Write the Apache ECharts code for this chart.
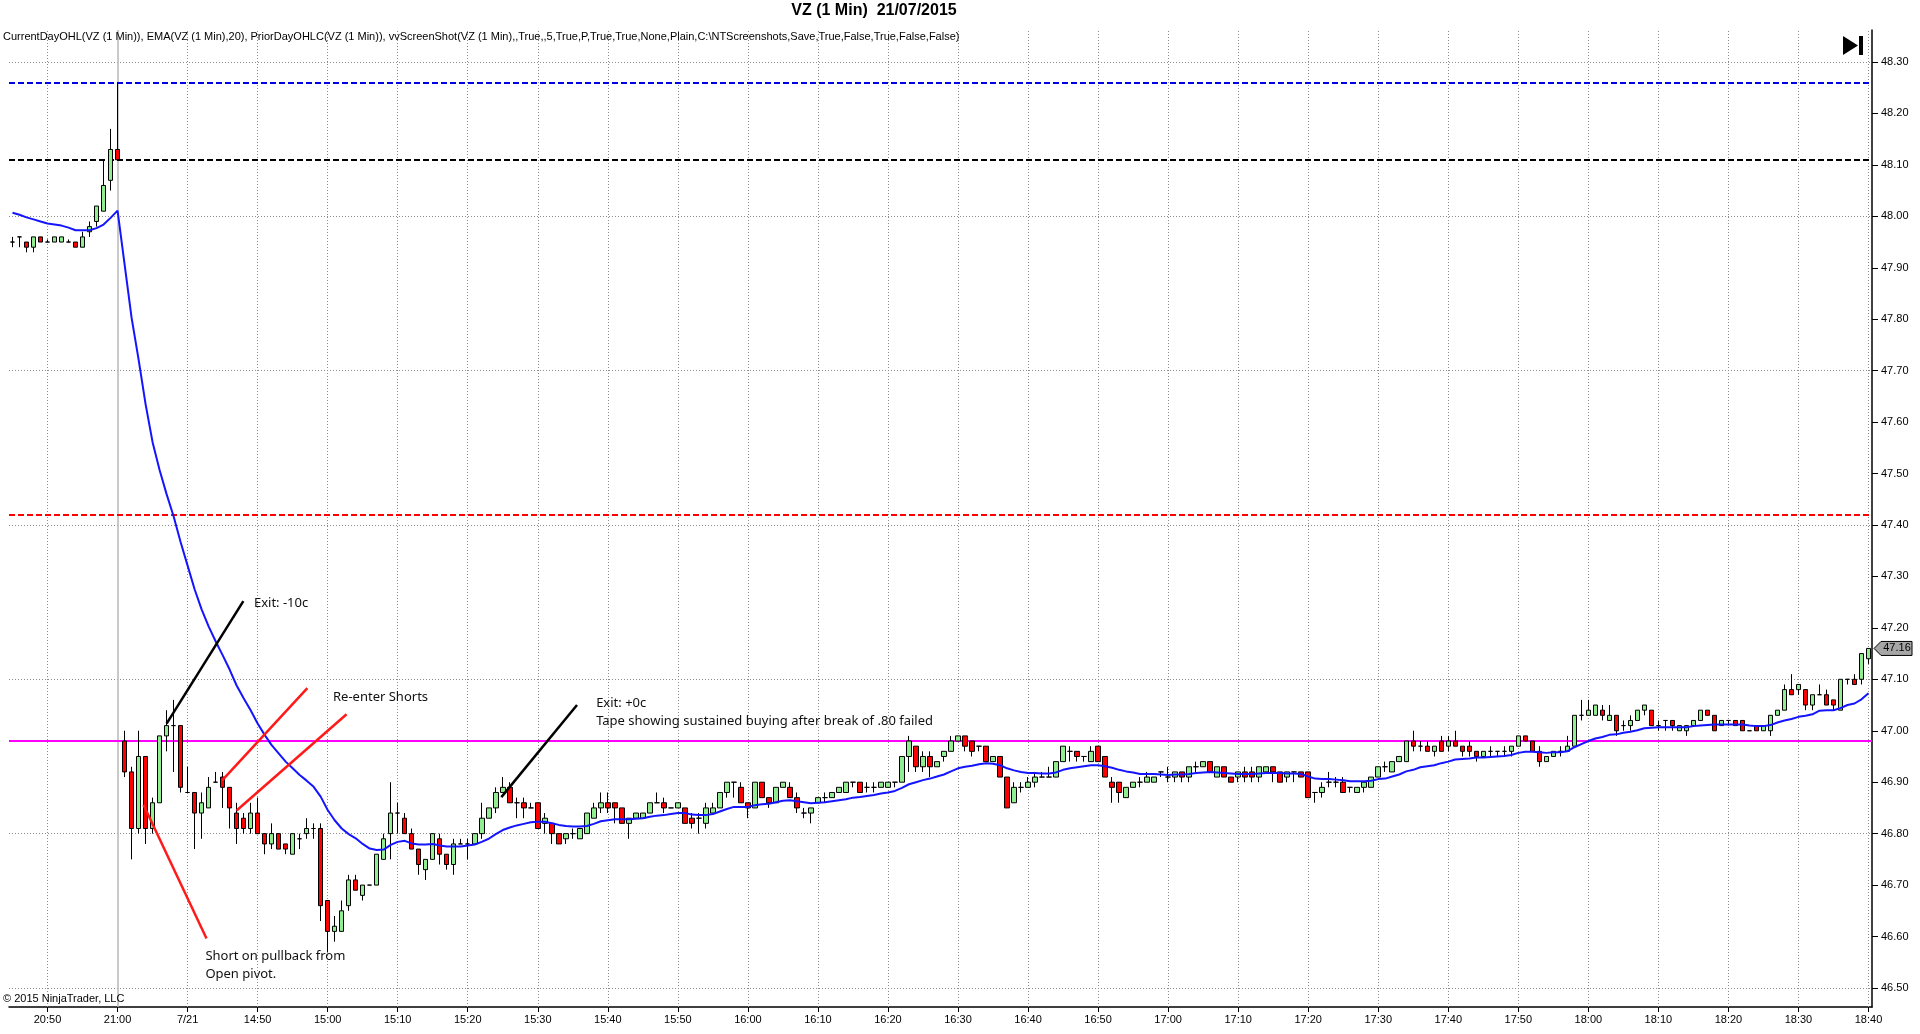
<!DOCTYPE html>
<html>
<head>
<meta charset="utf-8">
<title>VZ (1 Min) 21/07/2015</title>
<script src="https://cdn.jsdelivr.net/npm/echarts@6/dist/echarts.min.js"></script>
<style>
html,body{margin:0;padding:0;background:#fff;}
#main{width:1920px;height:1034px;}
</style>
</head>
<body>
<div id="main"></div>
<script>
// ---------- DATA ----------
// Prior session bars 20:45 - 21:00, then 21/07 session bars 14:31 - 18:40 (1 minute)
const priorStart = [20, 45], priorEnd = [21, 0];
const dayStart = [14, 31], dayEnd = [18, 40];

const xTickLabels = ['20:50','21:00','7/21','14:50','15:00','15:10','15:20','15:30','15:40','15:50',
  '16:00','16:10','16:20','16:30','16:40','16:50','17:00','17:10','17:20','17:30','17:40','17:50',
  '18:00','18:10','18:20','18:30','18:40'];
const yTickValues = [46.5,46.6,46.7,46.8,46.9,47.0,47.1,47.2,47.3,47.4,47.5,47.6,47.7,47.8,47.9,48.0,48.1,48.2,48.3];
const yGridValues = [46.5,46.8,47.1,47.4,47.7,48.0,48.3];

const opens = [
47.95,47.96,47.95,47.94,47.96,47.95,47.95,47.95,47.95,47.95,47.94,47.97,47.99,48.01,48.07,48.13,
46.98,46.92,46.81,46.95,46.81,46.86,46.99,47.01,47.01,46.88,
46.88,46.84,46.85,46.90,46.91,46.89,46.84,46.83,46.81,46.84,
46.80,46.78,46.80,46.78,46.76,46.79,46.80,46.81,46.81,46.67,
46.61,46.61,46.66,46.71,46.68,46.70,46.70,46.75,46.80,46.84,
46.83,46.80,46.77,46.73,46.75,46.79,46.76,46.74,46.78,46.78,
46.78,46.80,46.83,46.85,46.88,46.89,46.86,46.86,46.85,46.86,
46.82,46.82,46.80,46.79,46.80,46.79,46.80,46.83,46.85,46.86,
46.86,46.85,46.82,46.83,46.83,46.84,46.86,46.86,46.85,46.85,
46.85,46.83,46.83,46.82,46.84,46.85,46.88,46.90,46.89,46.86,
46.85,46.90,46.87,46.86,46.89,46.89,46.87,46.84,46.84,46.86,
46.87,46.87,46.88,46.88,46.90,46.90,46.89,46.89,46.89,46.89,
46.90,46.90,46.95,46.97,46.93,46.95,46.93,46.95,46.96,46.98,
46.99,46.98,46.97,46.97,46.94,46.95,46.91,46.86,46.89,46.89,
46.90,46.91,46.91,46.91,46.94,46.96,46.96,46.95,46.94,46.97,
46.95,46.90,46.90,46.87,46.89,46.90,46.90,46.90,46.92,46.91,
46.91,46.92,46.91,46.93,46.93,46.94,46.91,46.93,46.91,46.91,
46.92,46.92,46.91,46.92,46.93,46.92,46.91,46.92,46.92,46.92,
46.88,46.88,46.90,46.90,46.90,46.89,46.88,46.89,46.89,46.91,
46.93,46.92,46.94,46.94,46.98,46.97,46.97,46.96,46.98,46.97,
46.98,46.97,46.97,46.96,46.95,46.96,46.96,46.96,46.96,46.97,
46.99,46.98,46.96,46.94,46.95,46.96,46.96,46.97,47.03,47.03,
47.03,47.04,47.02,47.03,47.01,47.01,47.02,47.04,47.04,47.01,
47.02,47.02,47.00,47.00,47.01,47.02,47.04,47.03,47.01,47.02,
47.02,47.02,47.00,47.01,47.00,47.00,47.03,47.04,47.08,47.08,
47.08,47.05,47.07,47.07,47.06,47.04,47.10,47.10,47.10,47.14
];
const highs = [
47.96,47.96,47.95,47.96,47.96,47.955,47.96,47.96,47.955,47.95,47.97,47.99,48.02,48.11,48.17,48.26,
47.00,46.93,47.00,46.95,46.87,46.99,47.04,47.06,47.01,46.93,
46.88,46.88,46.91,46.92,46.92,46.89,46.86,46.84,46.86,46.87,
46.80,46.82,46.80,46.78,46.80,46.80,46.83,46.82,46.82,46.67,
46.64,46.67,46.72,46.72,46.70,46.70,46.76,46.80,46.90,46.86,
46.84,46.81,46.77,46.75,46.80,46.80,46.76,46.79,46.79,46.79,
46.80,46.86,46.85,46.89,46.91,46.90,46.87,46.87,46.86,46.86,
46.84,46.82,46.80,46.80,46.81,46.81,46.84,46.86,46.88,46.88,
46.86,46.85,46.83,46.84,46.84,46.86,46.88,46.87,46.85,46.86,
46.85,46.84,46.84,46.86,46.86,46.88,46.90,46.90,46.90,46.86,
46.90,46.90,46.87,46.89,46.90,46.90,46.88,46.85,46.85,46.87,
46.88,46.88,46.89,46.90,46.90,46.90,46.90,46.90,46.90,46.90,
46.90,46.95,46.99,46.97,46.96,46.96,46.94,46.96,46.99,46.99,
46.99,46.98,46.97,46.97,46.95,46.95,46.91,46.90,46.90,46.91,
46.92,46.92,46.93,46.94,46.97,46.97,46.96,46.95,46.97,46.97,
46.95,46.91,46.90,46.89,46.90,46.91,46.92,46.91,46.92,46.93,
46.92,46.92,46.93,46.94,46.94,46.94,46.93,46.93,46.91,46.92,
46.93,46.93,46.93,46.93,46.93,46.92,46.92,46.92,46.92,46.92,
46.88,46.90,46.92,46.91,46.91,46.89,46.89,46.90,46.91,46.93,
46.94,46.94,46.95,46.98,47.00,46.98,46.98,46.97,46.99,46.99,
47.00,46.97,46.98,46.96,46.96,46.97,46.96,46.97,46.97,46.99,
46.99,46.98,46.97,46.95,46.96,46.97,46.99,47.03,47.06,47.06,
47.05,47.05,47.05,47.03,47.02,47.03,47.04,47.05,47.04,47.02,
47.02,47.02,47.01,47.01,47.02,47.04,47.04,47.03,47.02,47.02,
47.02,47.02,47.00,47.01,47.01,47.03,47.04,47.09,47.11,47.09,
47.08,47.07,47.09,47.08,47.06,47.10,47.10,47.11,47.15,47.16
];
const lows = [
47.94,47.94,47.93,47.93,47.95,47.95,47.95,47.95,47.95,47.94,47.94,47.96,47.98,48.01,48.05,48.11,
46.91,46.75,46.80,46.78,46.80,46.86,46.96,46.92,46.88,46.88,
46.77,46.79,46.85,46.90,46.85,46.81,46.78,46.80,46.80,46.80,
46.76,46.77,46.77,46.76,46.76,46.77,46.79,46.79,46.63,46.57,
46.59,46.61,46.65,46.69,46.67,46.70,46.70,46.75,46.75,46.80,
46.80,46.77,46.72,46.71,46.75,46.74,46.73,46.72,46.78,46.75,
46.78,46.79,46.83,46.84,46.88,46.86,46.83,46.83,46.85,46.81,
46.80,46.78,46.78,46.78,46.79,46.79,46.80,46.83,46.84,46.84,
46.82,46.82,46.79,46.83,46.83,46.84,46.86,46.84,46.85,46.85,
46.82,46.81,46.80,46.81,46.84,46.85,46.87,46.87,46.86,46.83,
46.85,46.87,46.85,46.86,46.89,46.87,46.84,46.83,46.82,46.86,
46.86,46.87,46.88,46.88,46.89,46.88,46.88,46.88,46.89,46.89,
46.89,46.90,46.92,46.92,46.92,46.91,46.93,46.94,46.96,46.98,
46.96,46.95,46.96,46.94,46.94,46.91,46.85,46.86,46.88,46.89,
46.89,46.91,46.91,46.91,46.94,46.94,46.94,46.94,46.94,46.94,
46.91,46.86,46.86,46.87,46.89,46.89,46.90,46.90,46.91,46.90,
46.90,46.90,46.90,46.92,46.93,46.92,46.91,46.91,46.90,46.90,
46.90,46.90,46.90,46.92,46.90,46.90,46.90,46.90,46.91,46.87,
46.86,46.87,46.89,46.89,46.88,46.88,46.88,46.88,46.89,46.91,
46.92,46.92,46.94,46.94,46.96,46.96,46.96,46.95,46.96,46.96,
46.97,46.95,46.95,46.94,46.95,46.95,46.95,46.95,46.95,46.97,
46.98,46.96,46.93,46.94,46.95,46.95,46.96,46.97,47.02,47.03,
47.03,47.02,47.02,46.99,47.00,47.00,47.02,47.03,47.01,47.00,
47.00,47.00,47.00,46.99,47.01,47.02,47.03,47.00,47.01,47.01,
47.01,47.00,47.00,47.00,47.00,46.99,47.03,47.04,47.07,47.07,
47.04,47.04,47.07,47.05,47.04,47.04,47.09,47.09,47.09,47.13
];
const closes = [
47.95,47.96,47.94,47.96,47.95,47.95,47.96,47.96,47.95,47.94,47.96,47.98,48.02,48.06,48.13,48.11,
46.92,46.81,46.95,46.81,46.86,46.99,47.01,47.01,46.89,46.88,
46.84,46.86,46.89,46.90,46.89,46.85,46.81,46.81,46.84,46.80,
46.78,46.80,46.77,46.77,46.80,46.79,46.81,46.81,46.66,46.61,
46.62,46.65,46.71,46.69,46.70,46.70,46.76,46.79,46.84,46.84,
46.80,46.77,46.74,46.75,46.80,46.76,46.74,46.78,46.78,46.78,
46.80,46.83,46.85,46.88,46.89,46.86,46.86,46.85,46.85,46.81,
46.83,46.80,46.78,46.80,46.80,46.81,46.84,46.85,46.86,46.85,
46.85,46.82,46.83,46.84,46.84,46.86,46.86,46.85,46.85,46.86,
46.82,46.82,46.83,46.85,46.85,46.88,46.90,46.90,46.86,46.85,
46.90,46.87,46.86,46.89,46.90,46.87,46.85,46.84,46.85,46.87,
46.87,46.88,46.89,46.90,46.90,46.88,46.89,46.89,46.90,46.90,
46.90,46.95,46.98,46.93,46.95,46.93,46.94,46.96,46.98,46.99,
46.97,46.96,46.97,46.94,46.95,46.91,46.85,46.89,46.89,46.90,
46.91,46.91,46.91,46.94,46.97,46.96,46.95,46.95,46.96,46.94,
46.91,46.89,46.88,46.89,46.90,46.90,46.91,46.91,46.92,46.91,
46.92,46.91,46.93,46.93,46.94,46.92,46.93,46.91,46.90,46.92,
46.91,46.91,46.93,46.93,46.92,46.90,46.92,46.92,46.91,46.87,
46.88,46.89,46.90,46.90,46.88,46.89,46.89,46.90,46.91,46.93,
46.93,46.94,46.95,46.98,46.97,46.97,46.96,46.97,46.96,46.98,
46.97,46.96,46.96,46.95,46.96,46.96,46.96,46.96,46.97,46.99,
46.98,46.96,46.94,46.95,46.96,46.96,46.97,47.03,47.03,47.04,
47.05,47.03,47.03,47.00,47.01,47.02,47.04,47.05,47.01,47.01,
47.02,47.01,47.01,47.01,47.02,47.04,47.03,47.00,47.02,47.02,
47.01,47.00,47.00,47.00,47.01,47.03,47.04,47.08,47.07,47.09,
47.05,47.07,47.07,47.05,47.05,47.10,47.10,47.09,47.15,47.16
];
// EMA(20)
const ema = [
48.007,48.003,47.998,47.994,47.990,47.986,47.984,47.982,47.978,47.973,47.973,47.973,47.977,47.984,47.997,48.011,
47.907,47.803,47.722,47.635,47.561,47.507,47.460,47.417,47.367,47.321,
47.275,47.236,47.203,47.174,47.147,47.119,
47.088,47.063,47.040,47.014,46.992,46.972,46.956,46.940,46.927,46.914,
46.903,46.891,46.872,46.846,46.826,46.810,46.799,46.791,46.780,46.771,
46.768,46.769,46.778,46.784,46.786,
46.781,46.779,46.779,46.780,46.777,46.775,46.775,46.775,46.777,46.779,
46.784,46.790,46.799,46.807,46.812,46.816,46.819,46.822,46.823,46.823,
46.820,46.817,46.815,46.814,46.814,46.815,46.819,46.824,46.826,46.828,
46.828,46.828,46.829,46.830,46.833,46.835,46.836,46.838,46.840,46.840,46.837,46.836,
46.836,46.838,46.843,46.848,46.852,46.852,46.852,46.855,46.857,46.858,
46.861,46.864,46.865,46.863,46.861,46.859,46.860,46.861,46.863,46.865,
46.867,46.870,46.871,46.873,46.875,46.878,46.880,46.883,46.889,46.896,
46.900,46.904,46.907,46.911,46.915,46.921,46.927,46.930,46.932,46.935,46.937,
46.936,46.933,46.927,46.923,46.920,46.918,46.918,46.917,46.917,46.919,
46.924,46.927,46.929,46.931,46.933,46.933,46.931,46.928,46.924,46.921,
46.919,46.916,46.916,46.916,46.915,46.914,46.915,46.915,46.916,46.918,
46.919,46.920,46.919,46.918,46.917,46.916,46.916,46.916,46.917,46.918,
46.918,46.918,46.917,46.917,
46.916,46.911,46.907,46.906,46.906,46.905,46.904,46.902,46.902,46.902,
46.903,46.906,46.907,46.911,46.915,46.921,46.924,46.929,46.931,46.933,
46.937,46.940,46.944,46.945,46.946,46.948,46.948,46.949,46.950,46.951,
46.953,46.957,46.959,46.959,46.958,46.957,46.958,46.958,46.960,46.968,46.974,
46.980,46.985,46.988,46.992,46.993,46.996,46.998,47.001,47.005,47.006,
47.007,47.007,47.007,47.007,47.007,47.009,47.010,47.011,47.012,47.012,
47.012,47.012,47.012,47.010,47.009,47.009,47.011,47.016,47.020,47.023,
47.027,47.029,47.032,47.039,47.040,47.040,47.044,47.050,47.053,47.061,47.073
];
// Indicator levels
const priorDayHigh = 48.26, priorDayClose = 48.11, priorDayLow = 47.42, currentDayOpen = 46.98;

// Annotations (category index, price)
const annoLines = [
  { from: [22.0, 47.014], to: [32.96, 47.252], color: '#000000' },
  { from: [29.9, 46.903], to: [42.1, 47.083], color: '#ff1a1a' },
  { from: [32.0, 46.845], to: [47.7, 47.032], color: '#ff1a1a' },
  { from: [18.7, 46.856], to: [27.7, 46.596], color: '#ff1a1a' },
  { from: [69.8, 46.871], to: [80.6, 47.050], color: '#000000' }
];
const annoTexts = [
  { text: 'Exit: -10c', at: [34.47, 47.248] },
  { text: 'Re-enter Shorts', at: [45.76, 47.066] },
  { text: 'Exit: +0c', at: [83.33, 47.054] },
  { text: 'Tape showing sustained buying after break of .80 failed', at: [83.33, 47.019] },
  { text: 'Short on pullback from', at: [27.54, 46.562] },
  { text: 'Open pivot.', at: [27.54, 46.527] }
];

// ---------- BUILD ----------
function pad(n) { return (n < 10 ? '0' : '') + n; }
function minutes(a, b) {
  const out = [];
  let t = a[0] * 60 + a[1];
  const e = b[0] * 60 + b[1];
  for (; t <= e; t++) out.push(pad(Math.floor(t / 60)) + ':' + pad(t % 60));
  return out;
}
const categories = minutes(priorStart, priorEnd).concat(minutes(dayStart, dayEnd));
[opens, highs, lows, closes, ema].forEach(function (a, i) {
  if (a.length !== categories.length) throw new Error('length mismatch in array ' + i + ': ' + a.length + ' vs ' + categories.length);
});
const ohlc = categories.map(function (_, i) { return [opens[i], closes[i], lows[i], highs[i]]; });

const tickFn = function (idx) { return idx >= 5 && (idx - 5) % 10 === 0; };
const tickIdx = [];
for (let i = 0; i < categories.length; i++) if (tickFn(i)) tickIdx.push(i);
const sessionBreak = 15; // 21:00 last bar of prior session

const FONT = "'Liberation Sans', Arial, sans-serif";
const ANNO_FONT = "'Noto Sans', 'DejaVu Sans', sans-serif";

const gridLineStyle = { color: '#8c8c8c', type: [1, 2], width: 1 };
const gridMarks = [];
yGridValues.forEach(function (v) { gridMarks.push({ yAxis: v, lineStyle: gridLineStyle }); });
tickIdx.forEach(function (i) {
  if (i === sessionBreak) gridMarks.push({ xAxis: i, lineStyle: { color: '#b8b8b8', type: 'solid', width: 1.5 } });
  else gridMarks.push({ xAxis: i, lineStyle: gridLineStyle });
});

const levelMarks = [
  { yAxis: priorDayHigh, lineStyle: { color: '#0000e6', type: [6, 3], width: 2 } },
  { yAxis: priorDayClose, lineStyle: { color: '#000000', type: [6, 3], width: 2 } },
  { yAxis: priorDayLow, lineStyle: { color: '#ff0000', type: [6, 3], width: 2 } },
  { yAxis: currentDayOpen, lineStyle: { color: '#ff00ff', type: 'solid', width: 2 } }
];

const chart = echarts.init(document.getElementById('main'), null, { renderer: 'canvas' });
chart.setOption({
  animation: false,
  backgroundColor: '#ffffff',
  grid: { left: 9, right: 48, top: 30, bottom: 27 },
  xAxis: {
    type: 'category',
    data: categories,
    boundaryGap: true,
    axisLine: { show: true, lineStyle: { color: '#000', width: 1.5 } },
    axisTick: { show: true, alignWithLabel: true, interval: tickFn, length: 5, lineStyle: { color: '#000', width: 1 } },
    axisLabel: {
      interval: tickFn, color: '#000', fontSize: 11, fontFamily: FONT, margin: 7,
      formatter: function (v, idx) { return xTickLabels[(idx - 5) / 10] || ''; }
    },
    splitLine: { show: false }
  },
  yAxis: {
    type: 'value',
    position: 'right',
    min: 46.463,
    max: 48.3622,
    axisLine: { show: true, lineStyle: { color: '#000', width: 1.5 } },
    axisTick: { show: true, customValues: yTickValues, length: 6, lineStyle: { color: '#000' } },
    axisLabel: {
      customValues: yTickValues, color: '#000', fontSize: 11, fontFamily: FONT, margin: 9,
      formatter: function (v) { return Number(v).toFixed(2); }
    },
    splitLine: { show: false }
  },
  series: [
    {
      name: 'grid', type: 'line', data: [], z: 1, silent: true,
      markLine: { z: 1, silent: true, symbol: ['none', 'none'], label: { show: false }, animation: false, data: gridMarks }
    },
    {
      name: 'levels', type: 'line', data: [], z: 2, silent: true,
      markLine: { z: 2, silent: true, symbol: ['none', 'none'], label: { show: false }, animation: false, data: levelMarks }
    },
    {
      name: 'VZ', type: 'candlestick', data: ohlc, barWidth: 5, z: 3,
      itemStyle: {
        color: '#90ee90', color0: '#ff0000',
        borderColor: '#000000', borderColor0: '#000000', borderColorDoji: '#000000', borderWidth: 1
      }
    },
    {
      name: 'EMA(20)', type: 'line', data: ema, z: 4, showSymbol: false, symbol: 'none',
      lineStyle: { color: '#1414ff', width: 2 }
    }
  ]
});

// ---------- annotations & chrome ----------
function toPx(idx, price) {
  const a = chart.convertToPixel({ gridIndex: 0 }, [0, price]);
  const b = chart.convertToPixel({ gridIndex: 0 }, [1, price]);
  return [a[0] + idx * (b[0] - a[0]), a[1]];
}
const g = [];
annoLines.forEach(function (l) {
  const p1 = toPx(l.from[0], l.from[1]), p2 = toPx(l.to[0], l.to[1]);
  g.push({ type: 'line', silent: true, z: 50, shape: { x1: p1[0], y1: p1[1], x2: p2[0], y2: p2[1] },
    style: { stroke: l.color, lineWidth: 2.5 } });
});
annoTexts.forEach(function (t) {
  const p = toPx(t.at[0], t.at[1]);
  g.push({ type: 'text', silent: true, z: 50, x: p[0], y: p[1],
    style: { text: t.text, fill: '#111', font: '13px ' + ANNO_FONT, textAlign: 'left', textVerticalAlign: 'middle' } });
});
// title
g.push({ type: 'text', silent: true, z: 50, x: 874, y: 11,
  style: { text: 'VZ (1 Min)  21/07/2015', fill: '#000', font: 'bold 16px ' + FONT, textAlign: 'center', textVerticalAlign: 'middle' } });
// indicator line
g.push({ type: 'text', silent: true, z: 50, x: 3, y: 37,
  style: { text: 'CurrentDayOHL(VZ (1 Min)), EMA(VZ (1 Min),20), PriorDayOHLC(VZ (1 Min)), vvScreenShot(VZ (1 Min),,True,,5,True,P,True,True,None,Plain,C:\\NTScreenshots,Save,True,False,True,False,False)',
    fill: '#000', font: '11px ' + FONT, textAlign: 'left', textVerticalAlign: 'middle' } });
// copyright
g.push({ type: 'text', silent: true, z: 50, x: 3, y: 999,
  style: { text: '\u00A9 2015 NinjaTrader, LLC', fill: '#000', font: '11px ' + FONT, textAlign: 'left', textVerticalAlign: 'middle' } });
// play-to-end button
g.push({ type: 'polygon', silent: true, z: 50, shape: { points: [[1843, 36], [1858, 45.5], [1843, 55]] }, style: { fill: '#000' } });
g.push({ type: 'rect', silent: true, z: 50, shape: { x: 1859, y: 36, width: 4, height: 19 }, style: { fill: '#000' } });
// last price tag
const lastClose = closes[closes.length - 1];
const ly = chart.convertToPixel({ yAxisIndex: 0 }, lastClose);
const axisX = 1872;
g.push({ type: 'polygon', silent: true, z: 60,
  shape: { points: [[axisX + 2, ly], [axisX + 9, ly - 7], [axisX + 40, ly - 7], [axisX + 40, ly + 7], [axisX + 9, ly + 7]] },
  style: { fill: '#a6a6a6', stroke: '#000', lineWidth: 1 } });
g.push({ type: 'text', silent: true, z: 61, x: axisX + 25, y: ly,
  style: { text: lastClose.toFixed(2), fill: '#000', font: '11px ' + FONT, textAlign: 'center', textVerticalAlign: 'middle' } });
chart.setOption({ graphic: g });
</script>
</body>
</html>
